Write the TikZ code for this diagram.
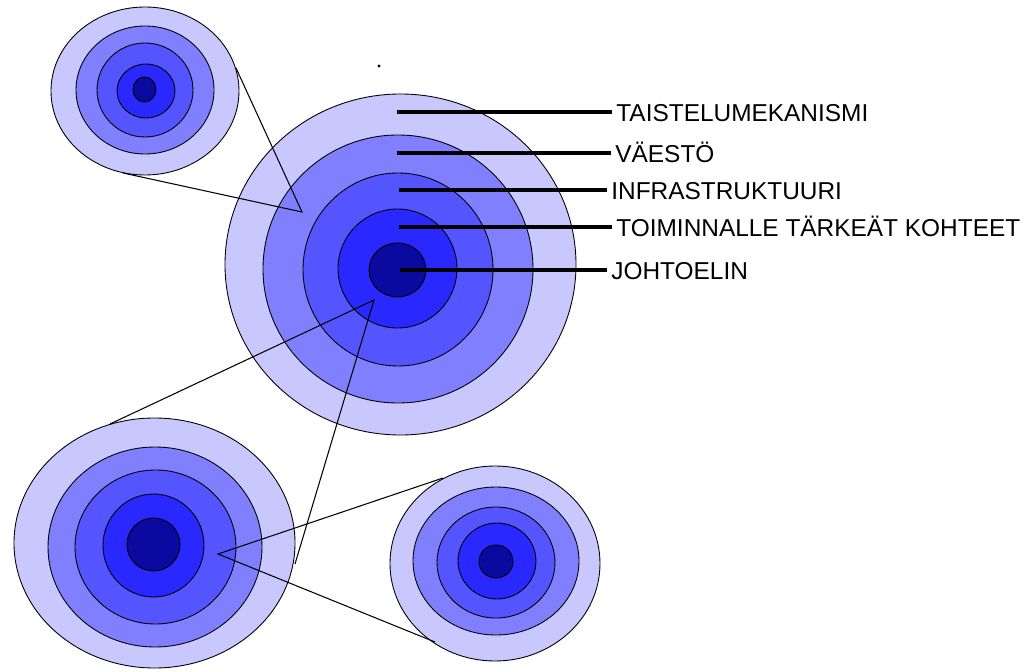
\documentclass[tikz,border=0pt]{standalone}
\usepackage{fontspec}
\setmainfont{Liberation Sans}
\definecolor{ringa}{RGB}{200,200,255}
\definecolor{ringb}{RGB}{128,128,255}
\definecolor{ringc}{RGB}{85,85,255}
\definecolor{ringd}{RGB}{40,40,255}
\definecolor{ringe}{RGB}{10,10,160}
\begin{document}
\begin{tikzpicture}[x=0.02cm,y=-0.02cm,
    ring/.style={draw=black,line width=0.5pt},
    link/.style={line width=0.6pt},
    labline/.style={line width=2.2pt},
    lab/.style={anchor=base west,inner ysep=0pt,inner xsep=0.08cm,font=\fontsize{13.9}{16}\selectfont}]
    \useasboundingbox (0,0) rectangle (1032,672);
    % upper left target
    \foreach \col/\cx/\cy/\rx/\ry in {ringa/145/91/94/84, ringb/145/90/69/64, ringc/145/90/48/47, ringd/146/91/29/27, ringe/144.5/89.5/11.5/12.5}
      \filldraw[ring,fill=\col] (\cx,\cy) ellipse [x radius=\rx, y radius=\ry];
    % main target
    \foreach \col/\cx/\cy/\rx/\ry in {ringa/400.5/264.5/175.5/170.5, ringb/398/269/135/134, ringc/398/269.5/95/96.5, ringd/397.5/268.5/59.5/59.5, ringe/397.5/270/28.5/27}
      \filldraw[ring,fill=\col] (\cx,\cy) ellipse [x radius=\rx, y radius=\ry];
    % lower left target
    \foreach \col/\cx/\cy/\rx/\ry in {ringa/154.5/543/140.5/125, ringb/155/547/107/100, ringc/155.5/547/80.5/77, ringd/153.5/545.5/50.5/51.5, ringe/153.5/544.5/26.5/26.5}
      \filldraw[ring,fill=\col] (\cx,\cy) ellipse [x radius=\rx, y radius=\ry];
    % lower right target
    \foreach \col/\cx/\cy/\rx/\ry in {ringa/495/563.5/105/97.5, ringb/496/561/83/74, ringc/496/562.5/59/55.5, ringd/497/561/39/38, ringe/496/561.5/17/16.5}
      \filldraw[ring,fill=\col] (\cx,\cy) ellipse [x radius=\rx, y radius=\ry];

    % wedges between the targets
    \coordinate (ula) at (236,68);
    \coordinate (ulb) at (123,173);
    \coordinate (wmain) at (302,212);
    \coordinate (mna) at (110,424);
    \coordinate (mnb) at (295,564);
    \coordinate (wbl) at (374,300);
    \coordinate (bra) at (443,478);
    \coordinate (brb) at (435,642);
    \coordinate (wbr) at (218,554);
    \draw[link] (ula) -- (wmain) -- (ulb);
    \draw[link] (mna) -- (wbl) -- (mnb);
    \draw[link] (bra) -- (wbr) -- (brb);

    % stray dot
    \fill (379,66) circle (1.7);

    % labels
    \coordinate (s1) at (397,112);
    \coordinate (s2) at (397,153);
    \coordinate (s3) at (399,190);
    \coordinate (s4) at (399,227);
    \coordinate (s5) at (400,270);
    \node[lab] (t1) at (612,121.5) {TAISTELUMEKANISMI};
    \node[lab] (t2) at (611,162.5) {VÄESTÖ};
    \node[lab] (t3) at (607,199.5) {INFRASTRUKTUURI};
    \node[lab] (t4) at (612,236.5) {TOIMINNALLE TÄRKEÄT KOHTEET};
    \node[lab] (t5) at (607,279.5) {JOHTOELIN};
    \foreach \i in {1,...,5}
      \draw[labline] (s\i) -- (s\i -| t\i.west);
\end{tikzpicture}
\end{document}
